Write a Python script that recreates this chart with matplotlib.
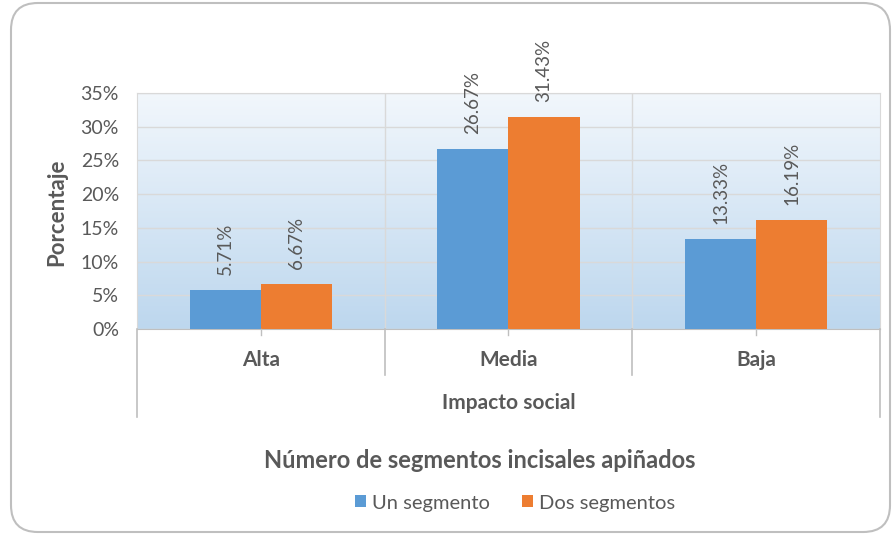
import matplotlib
matplotlib.use("Agg")
import matplotlib.pyplot as plt
import numpy as np
from matplotlib.patches import FancyBboxPatch
from matplotlib.lines import Line2D
from matplotlib.colors import LinearSegmentedColormap

categories = ["Alta", "Media", "Baja"]
series_names = ["Un segmento", "Dos segmentos"]
un_segmento = [5.71, 26.67, 13.33]
dos_segmentos = [6.67, 31.43, 16.19]
yticks = [0, 5, 10, 15, 20, 25, 30, 35]

colors = ["#5B9BD5", "#ED7D31"]
txt = "#595959"
plt.rcParams['font.family'] = ['Lato', 'DejaVu Sans']

W, H = 895, 535
fig = plt.figure(figsize=(W/100, H/100), dpi=100)

def fx(px): return px / W
def fy(py): return 1 - py / H

L, R, T, B = 137, 880, 93, 329
ax = fig.add_axes([fx(L), fy(B), fx(R) - fx(L), fy(T) - fy(B)])

# gradient background
grad = np.linspace(0, 1, 256).reshape(-1, 1)
cmap = LinearSegmentedColormap.from_list("g", ["#bdd7ee", "#f2f7fc"])
ax.imshow(grad, extent=[-0.5, 2.5, 0, 35], origin="lower", aspect="auto",
          cmap=cmap, zorder=0, interpolation="bicubic")

x = np.arange(len(categories))
bw = 0.287
b1 = ax.bar(x - bw/2, un_segmento, bw, color=colors[0], zorder=3, label=series_names[0])
b2 = ax.bar(x + bw/2, dos_segmentos, bw, color=colors[1], zorder=3, label=series_names[1])

for bars, vals in ((b1, un_segmento), (b2, dos_segmentos)):
    for rect, v in zip(bars, vals):
        ax.annotate(f"{v:.2f}%", (rect.get_x() + rect.get_width()/2, v),
                    xytext=(0, 11), textcoords="offset points", rotation=90,
                    ha="center", va="bottom", fontsize=13.5, color=txt, annotation_clip=False)

ax.set_xlim(-0.5, 2.5)
ax.set_ylim(0, 35)
ax.set_yticks(yticks)
ax.set_yticklabels([f"{t}%" for t in yticks], fontsize=14, color=txt)
ax.tick_params(axis="y", length=0, pad=13)
ax.set_xticks([])
ax.yaxis.grid(True, color="#d9d9d9", lw=1, zorder=1)
for xv in [0.5, 1.5]:
    ax.axvline(xv, color="#d9d9d9", lw=1, zorder=1)
for s in ["top", "right", "left"]:
    ax.spines[s].set_color("#d9d9d9")
ax.spines["bottom"].set_color("#bfbfbf")

fig.text(fx(57), fy(212), "Porcentaje", rotation=90, ha="center", va="center",
         fontsize=16, fontweight="bold", color=txt)

# multi-level category axis
lc = "#bfbfbf"
for xv in [-0.5, 0.5, 1.5, 2.5]:
    xp = L + (xv + 0.5) / 3 * (R - L)
    yend = 417 if xv in (-0.5, 2.5) else 375
    fig.add_artist(Line2D([fx(xp), fx(xp)], [fy(B), fy(yend)], color=lc, lw=1.2))
for i, c in enumerate(categories):
    xp = L + (i + 0.5) / 3 * (R - L)
    fig.add_artist(Line2D([fx(xp), fx(xp)], [fy(B), fy(B + 6)], color=lc, lw=1))
    fig.text(fx(xp), fy(360), c, ha="center", va="center", fontsize=15,
             fontweight="bold", color=txt)
fig.text(fx((L + R) / 2), fy(403), "Impacto social", ha="center", va="center",
         fontsize=15, fontweight="bold", color=txt)

fig.text(fx(480), fy(460), "Número de segmentos incisales apiñados", ha="center",
         va="center", fontsize=17, fontweight="bold", color=txt)

leg = fig.legend(handles=[b1, b2], labels=series_names, loc="center",
                 bbox_to_anchor=(fx(515), fy(503)), ncol=2, frameon=False,
                 fontsize=14.5, handlelength=0.55, handleheight=0.55, handletextpad=0.3,
                 columnspacing=1.6, labelcolor=txt)

# outer border
border = FancyBboxPatch((fx(11), fy(532)), fx(890) - fx(11), fy(3) - fy(532),
                        boxstyle="round,pad=0,rounding_size=0.03",
                        transform=fig.transFigure, fill=False, ec="#bfbfbf", lw=1.5,
                        mutation_aspect=W / H)
fig.add_artist(border)

fig.savefig("out.png", dpi=100)
